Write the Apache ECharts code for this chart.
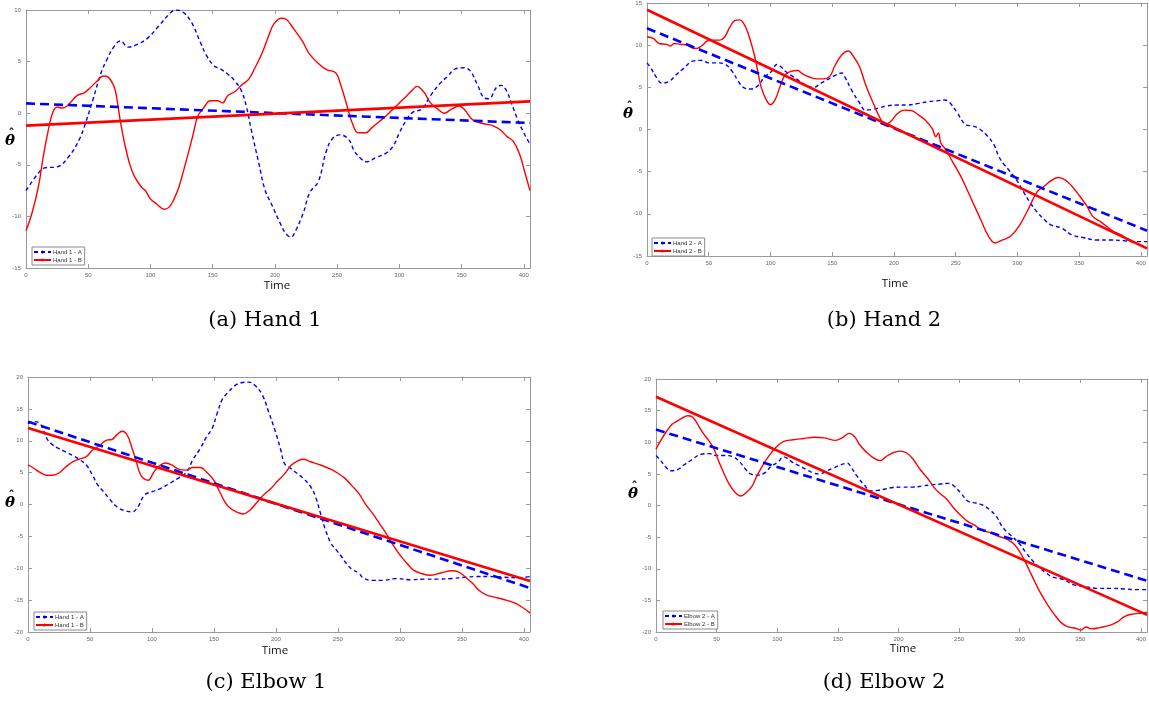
<!DOCTYPE html>
<html><head><meta charset="utf-8">
<script src="https://cdn.jsdelivr.net/npm/echarts@6/dist/echarts.min.js"></script>
<style>html,body{margin:0;padding:0;background:#fff}#c{width:1149px;height:702px}</style>
</head><body><div id="c"></div>
<script>
// ---- Data: [time, theta-hat] ----
const xTicks = [0, 50, 100, 150, 200, 250, 300, 350, 400];
const fitT = [0, 405];

const hand1A = [[0,-7.5],[10,-5.8],[15,-5.3],[25,-5.2],[35,-4.1],[43,-2.5],[48,-0.9],[54,1.4],[60,3.8],[65,5.2],[71,6.5],[76,7.0],[82,6.4],[90,6.7],[98,7.3],[107,8.5],[115,9.6],[120,10.0],[126,9.8],[133,8.8],[140,6.9],[145,5.6],[151,4.6],[156,4.3],[162,3.8],[168,3.1],[173,2.2],[177,0.7],[181,-1.6],[187,-4.8],[192,-7.4],[198,-9.0],[204,-10.6],[209,-11.7],[213,-12.0],[217,-11.3],[223,-9.6],[228,-7.7],[235,-6.6],[241,-3.8],[246,-2.5],[252,-2.1],[259,-2.5],[264,-3.7],[270,-4.5],[274,-4.7],[281,-4.3],[289,-3.9],[295,-3.2],[300,-1.9],[306,-0.6],[311,0.1],[318,0.4],[325,1.7],[332,2.8],[339,3.6],[345,4.3],[352,4.4],[357,4.1],[363,2.7],[368,1.5],[372,1.4],[378,2.5],[382,2.7],[386,2.2],[390,1.0],[395,-0.6],[400,-1.9],[405,-3.0]];
const hand1B = [[0,-11.4],[5,-9.6],[10,-7.1],[14,-4.1],[18,-1.6],[21,-0.1],[25,0.6],[29,0.5],[33,0.7],[37,1.2],[41,1.7],[47,2.0],[51,2.4],[57,3.1],[62,3.6],[66,3.5],[71,2.5],[73,1.4],[76,-0.9],[79,-2.8],[83,-4.8],[87,-6.1],[93,-7.2],[96,-7.5],[100,-8.3],[105,-8.8],[111,-9.3],[115,-9.1],[119,-8.3],[123,-7.1],[129,-4.5],[134,-2.2],[138,-0.3],[143,0.55],[148,1.2],[154,1.2],[158,1.0],[162,1.7],[168,2.1],[173,2.7],[179,3.3],[184,4.4],[190,5.9],[195,7.5],[199,8.6],[205,9.2],[209,9.1],[215,8.2],[222,7.0],[228,5.7],[237,4.6],[242,4.2],[249,3.9],[253,2.7],[258,0.7],[262,-0.9],[267,-1.9],[273,-1.9],[278,-1.4],[284,-0.8],[289,-0.3],[295,0.4],[300,1.0],[306,1.7],[311,2.3],[314,2.6],[320,2.0],[325,1.0],[331,0.4],[336,0.0],[342,0.4],[348,0.7],[352,0.4],[359,-0.65],[367,-1.0],[375,-1.2],[381,-1.6],[386,-2.2],[392,-2.8],[397,-4.1],[401,-5.8],[405,-7.5]];
const hand1FitA = [0.95, -0.95];
const hand1FitB = [-1.2, 1.15];

const hand2A = [[0,7.9],[3,7.3],[8,6.1],[12,5.5],[18,5.7],[23,6.4],[30,7.3],[37,8.1],[44,8.2],[50,7.9],[56,7.9],[63,7.75],[69,6.9],[74,5.7],[78,5.0],[84,4.8],[90,5.2],[95,6.2],[101,6.9],[105,7.7],[108,7.5],[112,6.9],[118,6.3],[124,5.7],[129,5.2],[135,5.0],[141,5.5],[146,5.9],[152,6.4],[158,6.7],[160,6.3],[166,4.6],[172,3.2],[177,2.3],[183,2.4],[189,2.6],[194,2.8],[203,2.9],[211,2.9],[220,3.1],[228,3.3],[235,3.4],[241,3.5],[245,3.2],[251,2.05],[258,0.6],[264,0.4],[269,0.1],[275,-0.65],[281,-1.8],[285,-3.2],[289,-4.1],[293,-4.8],[299,-5.9],[305,-7.4],[310,-8.6],[316,-9.8],[322,-10.7],[327,-11.3],[336,-11.7],[344,-12.5],[353,-12.8],[364,-13.1],[375,-13.1],[387,-13.2],[395,-13.3],[405,-13.3]];
const hand2B = [[0,11.0],[5,10.8],[10,10.2],[16,10.1],[19,9.9],[22,10.2],[27,10.1],[33,10.0],[36,9.7],[40,9.6],[44,9.9],[49,10.5],[53,10.6],[59,10.6],[63,11.0],[67,12.1],[71,12.9],[75,13.0],[80,12.1],[84,10.4],[87,8.8],[90,6.7],[92.5,5.0],[97,3.4],[100,2.95],[104,3.6],[108,5.2],[112,6.5],[116.5,6.9],[122,7.0],[126,6.6],[132,6.2],[138,6.0],[143,6.0],[148,6.3],[152,7.5],[157.5,8.8],[163,9.3],[167.5,8.6],[172,7.5],[177,5.35],[183,3.2],[189,1.3],[193,0.6],[197,0.9],[203,1.9],[208.5,2.3],[214,2.25],[220,1.7],[225.5,1.1],[231,0.1],[234,-0.85],[236,-0.4],[238,-1.6],[242,-2.4],[248,-3.95],[254,-5.5],[259,-7.05],[265,-9.0],[271,-10.9],[276,-12.5],[282,-13.45],[288,-13.1],[295,-12.6],[302,-11.3],[309,-9.4],[316,-7.4],[322,-6.7],[327,-6.1],[333,-5.7],[339,-6.0],[344,-6.7],[350,-7.8],[356,-9.0],[361,-10.3],[367,-10.9],[372.5,-11.5],[378,-12.1],[384,-12.5],[389.5,-13.1],[395,-13.45],[401,-13.8],[405,-14.1]];
const hand2FitA = [12.0, -12.0];
const hand2FitB = [14.2, -14.1];

const elbow1A = [[0,12.7],[5,13.0],[9,12.8],[12,11.9],[15,10.4],[19,9.5],[24.5,8.8],[30,8.3],[36,7.7],[41,7.1],[47,6.2],[52,4.6],[56.5,3.0],[61,2.0],[66,0.8],[72,-0.4],[77,-0.9],[84,-1.15],[88.6,-0.4],[94,1.5],[100,2.0],[107,2.5],[114,3.3],[121,4.1],[128,5.1],[133,7.0],[139,8.8],[144,10.6],[148.5,11.9],[152.6,14.3],[157,16.6],[161,17.5],[166.6,18.6],[172,19.1],[178,19.2],[183,18.7],[189,17.2],[194,14.6],[200,11.2],[204,8.5],[207,6.4],[211,5.8],[217,4.9],[222,4.1],[228,2.8],[232,1.2],[236,-1.4],[240,-4.0],[244.5,-6.1],[249,-7.2],[253,-8.2],[257,-9.3],[261,-10.1],[267,-10.8],[271,-11.6],[278,-11.9],[286,-11.9],[297.5,-11.6],[308.6,-11.8],[320,-11.7],[331,-11.7],[342,-11.6],[353,-11.4],[361.6,-11.3],[372.7,-11.3],[383.8,-11.4],[395,-11.5],[405,-11.3]];
const elbow1B = [[0,6.2],[5,5.65],[9,5.1],[15,4.6],[20,4.6],[24.5,4.9],[30,5.8],[36,6.7],[41,7.1],[47,7.5],[52,8.5],[58,9.3],[63.5,10.1],[67.7,10.2],[72,11.0],[76,11.5],[80,10.9],[84,8.8],[87,7.0],[91,4.6],[97,3.8],[101,4.9],[105,5.9],[111,6.5],[116,6.2],[122,5.5],[127.6,5.4],[133,5.8],[139,5.8],[144,5.1],[150,3.8],[154,2.25],[158,0.7],[162,-0.4],[168,-1.15],[173.5,-1.5],[179,-0.9],[185,0.4],[190,1.5],[196,2.5],[201,3.6],[207,4.8],[212.5,6.2],[218,6.9],[222,7.1],[228,6.7],[236,6.2],[244.6,5.5],[250,4.9],[255.7,4.1],[261,3.0],[267,1.7],[272,0.15],[278,-1.4],[283.6,-3.0],[289,-4.55],[294.7,-6.4],[300,-7.9],[306,-9.3],[311,-10.3],[317,-10.8],[325,-11.1],[333.7,-10.7],[342,-10.4],[347.6,-10.6],[353,-11.4],[358.8,-12.4],[364,-13.5],[370,-14.2],[375.5,-14.5],[383.8,-14.9],[392,-15.4],[397.8,-16.0],[405,-17.0]];
const elbow1FitA = [13.0, -13.1];
const elbow1FitB = [12.0, -12.0];

const elbow2A = [[0,7.9],[3,7.3],[8,6.1],[12,5.5],[18,5.7],[23,6.4],[30,7.3],[37,8.1],[44,8.2],[50,7.9],[56,7.9],[63,7.75],[69,6.9],[74,5.7],[78,5.0],[84,4.8],[90,5.2],[95,6.2],[101,6.9],[105,7.7],[108,7.5],[112,6.9],[118,6.3],[124,5.7],[129,5.2],[135,5.0],[141,5.5],[146,5.9],[152,6.4],[158,6.7],[160,6.3],[166,4.6],[172,3.2],[177,2.3],[183,2.4],[189,2.6],[194,2.8],[203,2.9],[211,2.9],[220,3.1],[228,3.3],[235,3.4],[241,3.5],[245,3.2],[251,2.05],[258,0.6],[264,0.4],[269,0.1],[275,-0.65],[281,-1.8],[285,-3.2],[289,-4.1],[293,-4.8],[299,-5.9],[305,-7.4],[310,-8.6],[316,-9.8],[322,-10.7],[327,-11.3],[336,-11.7],[344,-12.5],[353,-12.8],[364,-13.1],[375,-13.1],[387,-13.2],[395,-13.3],[405,-13.3]];
const elbow2B = [[0,8.9],[4.3,10.4],[8.6,11.7],[13,12.8],[17,13.3],[21.5,13.8],[26,14.2],[30,14.0],[34.5,12.8],[39,11.4],[43,10.4],[47.4,9.1],[51.7,7.0],[56,5.1],[60,3.5],[64.6,2.2],[70,1.5],[74.7,2.1],[79,3.0],[83,4.6],[87.6,6.2],[93,7.8],[99,9.2],[105,10.1],[113,10.4],[122,10.6],[130.7,10.8],[139,10.7],[148,10.3],[153.6,10.7],[159.4,11.4],[163.7,10.9],[168,9.6],[173.7,8.4],[179.5,7.5],[185,7.1],[189.5,7.7],[195,8.3],[201,8.6],[206.8,8.3],[212.5,7.2],[218,5.65],[224,4.3],[229.8,2.75],[234,1.95],[239.8,1.0],[245.5,-0.4],[251,-1.5],[257,-2.5],[262.8,-3.1],[268.5,-3.9],[275.7,-4.3],[283,-4.9],[290,-5.4],[295.8,-6.2],[301.5,-7.8],[307,-9.9],[313,-12.3],[317.3,-13.9],[323,-15.7],[328.8,-17.3],[334.6,-18.6],[340,-19.2],[346,-19.4],[350.4,-19.7],[354.7,-19.2],[359,-19.5],[366,-19.3],[374.8,-18.9],[380.5,-18.4],[386,-17.6],[392,-17.2],[400.6,-17.0],[405,-16.9]];
const elbow2FitA = [12.0, -11.9];
const elbow2FitB = [17.2, -17.3];

// ---- Panels ----
const BLUE = '#0000ff', RED = '#ff0000', AXC = '#9a9a9a';
const panels = [
  {box:[26,10,504,258], y:[-15,10], A:hand1A, B:hand1B, fA:hand1FitA, fB:hand1FitB, names:['Hand 1 - A','Hand 1 - B'],
   leg:[32,247], cap:'(a) Hand 1', capPos:[265,321], th:[10,141], time:[277,286]},
  {box:[647,1,500,255], y:[-15,15], A:hand2A, B:hand2B, fA:hand2FitA, fB:hand2FitB, names:['Hand 2 - A','Hand 2 - B'],
   leg:[652,238], cap:'(b) Hand 2', capPos:[884,321], th:[628,114], time:[895,284]},
  {box:[28,377,502,255], y:[-20,20], A:elbow1A, B:elbow1B, fA:elbow1FitA, fB:elbow1FitB, names:['Hand 1 - A','Hand 1 - B'],
   leg:[34,612], cap:'(c) Elbow 1', capPos:[266,683], th:[10,503], time:[275,651]},
  {box:[656,379,497,253], y:[-20,20], A:elbow2A, B:elbow2B, fA:elbow2FitA, fB:elbow2FitB, names:['Elbow 2 - A','Elbow 2 - B'],
   leg:[663,611], cap:'(d) Elbow 2', capPos:[884,683], th:[633,494], time:[903,649]}
];

const grid = [], xAxis = [], yAxis = [], series = [], legend = [], graphic = [];
panels.forEach((p, i) => {
  grid.push({left:p.box[0], top:p.box[1], width:p.box[2], height:p.box[3], show:false, containLabel:false});
  const tick = {show:true, inside:true, length:4, lineStyle:{color:AXC, width:1}};
  const line = {show:true, onZero:false, lineStyle:{color:AXC, width:1}};
  const lab = {fontSize:6, color:'#666', fontFamily:'Liberation Sans'};
  xAxis.push({gridIndex:i, type:'value', min:0, max:405, interval:50, position:'bottom',
    axisLine:line, axisTick:tick, splitLine:{show:false},
    axisLabel:Object.assign({margin:4, showMaxLabel:false, formatter:v => xTicks.includes(v) ? String(v) : ''}, lab)});
  xAxis.push({gridIndex:i, type:'value', min:0, max:405, interval:50, position:'top',
    axisLine:line, axisTick:tick, splitLine:{show:false}, axisLabel:{show:false}});
  yAxis.push({gridIndex:i, type:'value', min:p.y[0], max:p.y[1], interval:5, position:'left',
    axisLine:line, axisTick:tick, splitLine:{show:false}, axisLabel:Object.assign({margin:5}, lab)});
  yAxis.push({gridIndex:i, type:'value', min:p.y[0], max:p.y[1], interval:5, position:'right',
    axisLine:line, axisTick:tick, splitLine:{show:false}, axisLabel:{show:false}});
  const xi = 2*i, yi = 2*i;
  series.push({name:p.names[0], type:'line', xAxisIndex:xi, yAxisIndex:yi, data:p.A, smooth:0.4, symbol:'none',
    lineStyle:{color:BLUE, width:1.4, type:[4,3]}, itemStyle:{color:BLUE}, animation:false, silent:true});
  series.push({name:p.names[1], type:'line', xAxisIndex:xi, yAxisIndex:yi, data:p.B, smooth:0.4, symbol:'none',
    lineStyle:{color:RED, width:1.4}, itemStyle:{color:RED}, animation:false, silent:true});
  series.push({name:'fitA'+i, type:'line', xAxisIndex:xi, yAxisIndex:yi, data:fitT.map((t,k)=>[t,p.fA[k]]), symbol:'none',
    lineStyle:{color:BLUE, width:2.6, type:[9,5]}, animation:false, silent:true});
  series.push({name:'fitB'+i, type:'line', xAxisIndex:xi, yAxisIndex:yi, data:fitT.map((t,k)=>[t,p.fB[k]]), symbol:'none',
    lineStyle:{color:RED, width:2.6}, animation:false, silent:true});
  legend.push({data:p.names, left:p.leg[0], top:p.leg[1], orient:'vertical', itemWidth:17, itemHeight:4, itemGap:2,
    padding:[2,3,2,1], borderColor:'#8a8a8a', borderWidth:1, backgroundColor:'#fff', selectedMode:false,
    lineStyle:{width:2}, textStyle:{fontSize:6, color:'#333', fontFamily:'Liberation Sans', padding:[0,0,0,-3]}});
  graphic.push({type:'text', x:p.th[0], y:p.th[1], style:{text:'\u03B8', font:'bold italic 15px "DejaVu Serif"', fill:'#000', align:'center', verticalAlign:'middle'}});
  graphic.push({type:'text', x:p.th[0] + 1.5, y:p.th[1] - 6.5, style:{text:'\u02C6', font:'bold 12px "DejaVu Serif"', fill:'#000', align:'center', verticalAlign:'middle'}});
  graphic.push({type:'text', x:p.time[0], y:p.time[1], style:{text:'Time', font:'11.5px "Open Sans"', fill:'#111', align:'center', verticalAlign:'middle'}});
  graphic.push({type:'text', x:p.capPos[0], y:p.capPos[1], style:{text:p.cap, font:'21px "DejaVu Serif"', fill:'#000', align:'center', verticalAlign:'middle'}});
});

const chart = echarts.init(document.getElementById('c'), null, {renderer:'canvas'});
chart.setOption({backgroundColor:'#fff', animation:false, grid, xAxis, yAxis, series, legend, graphic});
</script></body></html>
